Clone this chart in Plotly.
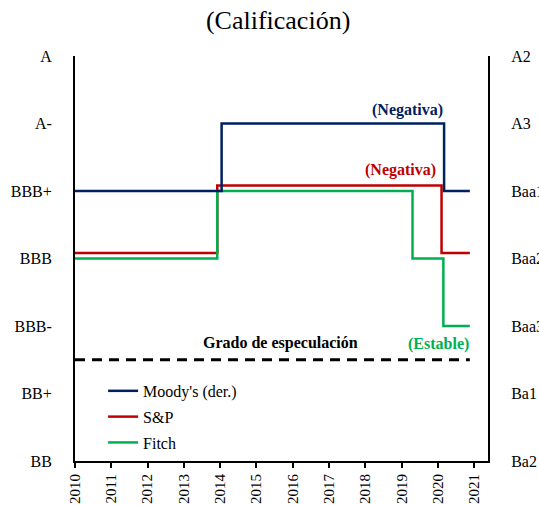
import plotly.graph_objects as go

# Rating scale (left: S&P / Fitch, right: Moody's)
levels = [0, 1, 2, 3, 4, 5, 6]
left_labels = ["BB", "BB+", "BBB-", "BBB", "BBB+", "A-", "A"]
right_labels = ["Ba2", "Ba1", "Baa3", "Baa2", "Baa1", "A3", "A2"]
years = list(range(2010, 2022))

# Step series (change dates, rating level)
moodys_x = [2010, 2014.04, 2020.17, 2020.88]
moodys_y = [4, 5, 4, 4]
sp_x = [2010, 2013.92, 2020.10, 2020.88]
sp_y = [3.08, 4.08, 3.08, 3.08]
fitch_x = [2010, 2013.92, 2019.30, 2020.15, 2020.88]
fitch_y = [3, 4, 3, 2, 2]
spec_x = [2010, 2020.88]
spec_y = [1.5, 1.5]

NAVY = "#002060"
RED = "#C00000"
GREEN = "#00B050"
FONT = "Liberation Serif, Times New Roman, serif"

fig = go.Figure()
fig.add_trace(go.Scatter(x=spec_x, y=spec_y, mode="lines", showlegend=False,
                         line=dict(color="black", width=3, dash="10px,7px"), hoverinfo="skip"))
fig.add_trace(go.Scatter(x=moodys_x, y=moodys_y, mode="lines", name="Moody's (der.)",
                         line=dict(color=NAVY, width=2.5, shape="hv"), yaxis="y2",
                         legendgroup="a"))
fig.add_trace(go.Scatter(x=sp_x, y=sp_y, mode="lines", name="S&P",
                         line=dict(color=RED, width=2.5, shape="hv"), legendgroup="b"))
fig.add_trace(go.Scatter(x=fitch_x, y=fitch_y, mode="lines", name="Fitch",
                         line=dict(color=GREEN, width=2.5, shape="hv"), legendgroup="c"))

fig.update_layout(
    width=539, height=505,
    margin=dict(l=75, r=51, t=56, b=44),
    paper_bgcolor="white", plot_bgcolor="white",
    font=dict(family=FONT, size=16, color="black"),
    title=dict(text="(Calificación)", x=0.516, xanchor="center", y=0.96, yanchor="middle",
               font=dict(family=FONT, size=26, color="black")),
    xaxis=dict(range=[2010, 2021.38], tickmode="array", tickvals=years,
               ticktext=[str(y) for y in years], tickangle=-90, automargin=False,
               showline=True, linecolor="black", linewidth=2, showgrid=False,
               zeroline=False, ticks="outside", ticklen=5, tickwidth=2, tickcolor="black",
               tickfont=dict(family=FONT, size=15)),
    yaxis=dict(range=[0, 6], tickmode="array", tickvals=levels, ticktext=left_labels,
               showline=True, linecolor="black", linewidth=2, showgrid=False,
               zeroline=False, ticks="", ticklabelstandoff=18, automargin=False,
               tickfont=dict(family=FONT, size=16)),
    yaxis2=dict(range=[0, 6], overlaying="y", side="right", anchor="x",
                tickmode="array", tickvals=levels, ticktext=right_labels,
                showline=True, linecolor="black", linewidth=2, showgrid=False,
                zeroline=False, ticks="", ticklabelstandoff=18, automargin=False,
                tickfont=dict(family=FONT, size=16)),
    legend=dict(x=0.068, y=0.215, xanchor="left", yanchor="top",
                bgcolor="rgba(0,0,0,0)", tracegroupgap=2,
                font=dict(family=FONT, size=16)),
    showlegend=True,
)

fig.add_annotation(x=2020.19, y=5.2, xref="x", yref="y", text="<b>(Negativa)</b>",
                   showarrow=False, xanchor="right", yanchor="middle",
                   font=dict(family=FONT, size=16, color=NAVY))
fig.add_annotation(x=2020.0, y=4.31, xref="x", yref="y", text="<b>(Negativa)</b>",
                   showarrow=False, xanchor="right", yanchor="middle",
                   font=dict(family=FONT, size=16, color=RED))
fig.add_annotation(x=2015.67, y=1.75, xref="x", yref="y", text="<b>Grado de especulación</b>",
                   showarrow=False, xanchor="center", yanchor="middle",
                   font=dict(family=FONT, size=16, color="black"))
fig.add_annotation(x=2020.9, y=1.73, xref="x", yref="y", text="<b>(Estable)</b>",
                   showarrow=False, xanchor="right", yanchor="middle",
                   font=dict(family=FONT, size=16, color=GREEN))

fig.write_html("out.html",
               config={"displayModeBar": False},
               post_script="document.body.style.margin='0';document.body.style.overflow='hidden';")
